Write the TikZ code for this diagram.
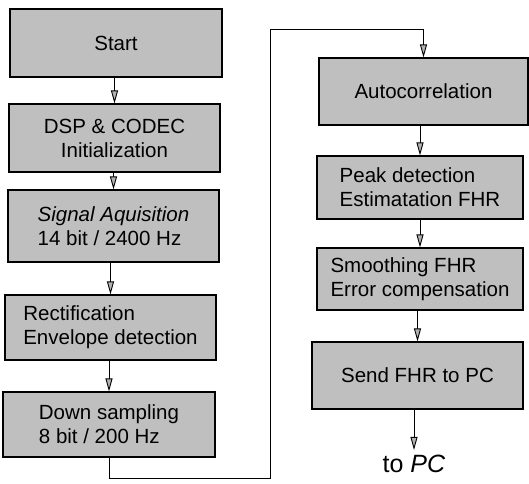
\documentclass[tikz,border=0pt]{standalone}
\usepackage{fontspec}
\setmainfont{Liberation Sans}
\usetikzlibrary{arrows.meta}

\tikzset{
	block/.style={draw=black, line width=1.1pt, fill=black!25, inner sep=0pt,
		font=\fontsize{20.5}{24}\selectfont},
	flow/.style={line width=0.9pt,
		-{Triangle[length=13pt, width=7pt, fill=black!30, line width=0.9pt]}},
}

\begin{document}
\begin{tikzpicture}[x=1pt, y=-1pt]
			%%%%% START %%%%%
			
			\useasboundingbox (0,0) rectangle (529,483);
			
			% left column
			\node[block, minimum width=212, minimum height=68] (start) at (116, 43) {Start};
			\node[block, minimum width=211, minimum height=68, align=center] (init) at (114.5, 138) {DSP \& CODEC\\Initialization};
			\node[block, minimum width=211, minimum height=72, align=left] (acq) at (113.5, 226) {\textit{Signal Aquisition}\\14 bit / 2400 Hz};
			\node[block, minimum width=211, minimum height=65, align=left] (rect) at (110.5, 327.5) {Rectification\\Envelope detection};
			\node[block, minimum width=212, minimum height=65, align=left] (down) at (109, 424.5) {Down sampling\\8 bit / 200 Hz};
			
			% right column
			\node[block, minimum width=209, minimum height=67] (auto) at (423.5, 91.5) {Autocorrelation};
			\node[block, minimum width=206, minimum height=63, align=left] (peak) at (420, 187.5) {Peak detection\\Estimatation FHR};
			\node[block, minimum width=206, minimum height=62, align=left] (smooth) at (420, 279) {Smoothing FHR\\Error compensation};
			\node[block, minimum width=211, minimum height=67] (send) at (417.5, 375.5) {Send FHR to PC};
			\node[font=\fontsize{25}{28}\selectfont, inner sep=5pt] (topc) at (414, 464) {to \textit{PC}};
			
			\draw[flow] (start.south -| init.north) -- (init.north);
			\draw[flow] (init.south -| acq.north) -- (acq.north);
			\draw[flow] (acq.south -| rect.north) -- (rect.north);
			\draw[flow] (rect.south -| down.north) -- (down.north);
			
			% back up to the second column
			\coordinate (turn) at (270, 29);
			\draw[flow] (down.south) -- ++(0, 21) -| (turn) -| (auto.north);
			
			\draw[flow] (auto.south -| peak.north) -- (peak.north);
			\draw[flow] (peak.south -| smooth.north) -- (smooth.north);
			\draw[flow] (smooth.south -| send.north) -- (send.north);
			\draw[flow] (send.south -| topc.north) -- (topc.north);
			
			%%%%% END %%%%%
\end{tikzpicture}
\end{document}
